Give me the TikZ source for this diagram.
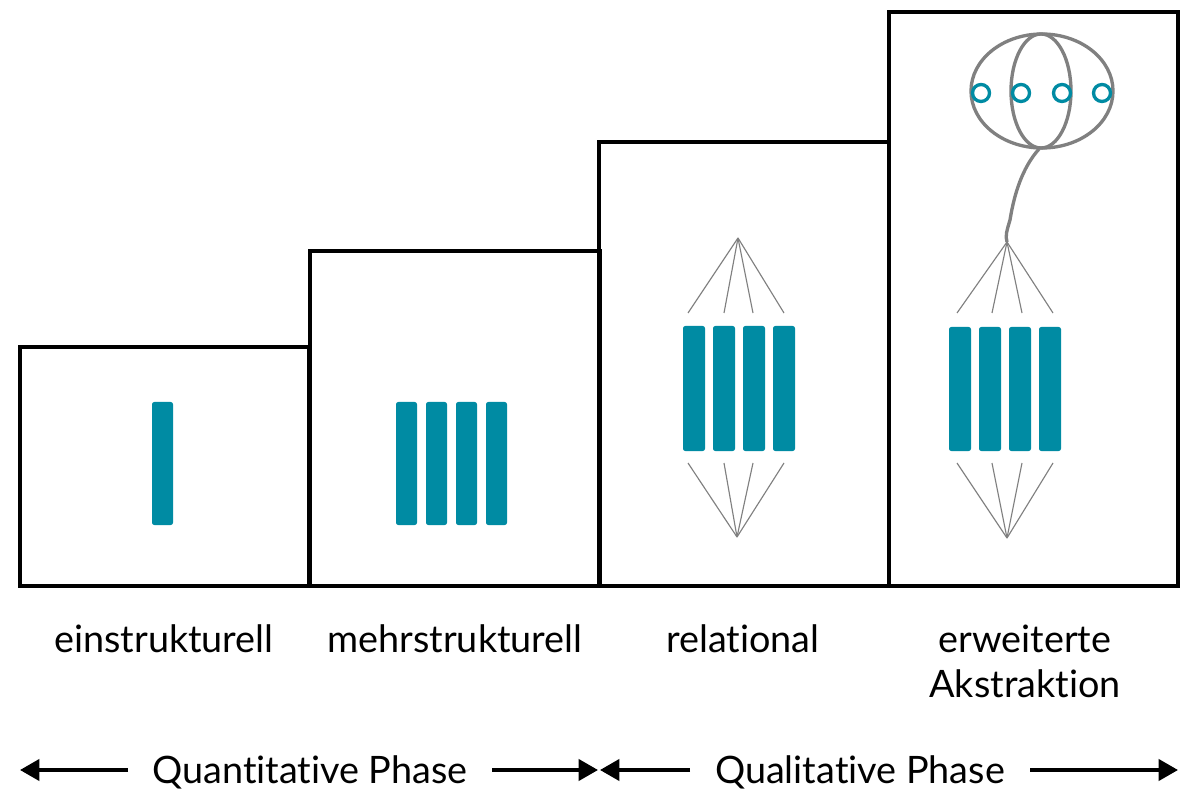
\documentclass[tikz,border=0pt]{standalone}
\usepackage{fontspec}
\setmainfont{Lato}[Ligatures={NoCommon}]
\usetikzlibrary{arrows.meta}
\definecolor{balkenfarbe}{RGB}{0,139,163}
\definecolor{fasergrau}{RGB}{128,128,128}
\tikzset{
  stufe/.style={line width=2.3pt},
  balken/.style={fill=balkenfarbe, rounded corners=1.3pt},
  faser/.style={draw=fasergrau, line width=0.65pt},
  stufentext/.style={font=\fontsize{21.5}{25.5}\selectfont, anchor=base, align=center},
  phasepfeil/.style={line width=2.1pt, -{Triangle[length=11pt,width=12pt]}}
}
\begin{document}
\begin{tikzpicture}[x=0.02cm, y=-0.02cm]
\useasboundingbox (0,0) rectangle (1200,800);

% Stufen
\draw[stufe] (20,347)  rectangle (309,586);
\draw[stufe] (310,251) rectangle (600,586);
\draw[stufe] (599,142) rectangle (889,586);
\draw[stufe] (889,12)  rectangle (1178,586);

% einstrukturell
\fill[balken] (152,402) rectangle (173,525);

% mehrstrukturell
\foreach \x in {396,426,456,486}
  \fill[balken] (\x,402) rectangle ++(21,123);

% relational
\foreach \x in {683,713,743,773}
  \fill[balken] (\x,326) rectangle ++(22,125);
\coordinate (relOben) at (738,238);
\coordinate (relUnten) at (737,537);
\foreach \x in {688,724,753,784} {
  \draw[faser] (relOben) -- (\x,313);
  \draw[faser] (relUnten) -- (\x,463);
}

% erweiterte Abstraktion
\foreach \x in {949,979,1009,1039}
  \fill[balken] (\x,327) rectangle ++(22,124);
\coordinate (abstOben) at (1007,242);
\coordinate (abstUnten) at (1007,538);
\foreach \x in {957,992,1022,1053} {
  \draw[faser] (abstOben) -- (\x,313);
  \draw[faser] (abstUnten) -- (\x,463);
}
\draw[draw=fasergrau, line width=1.9pt] (1042,91) ellipse (71 and 57);
\draw[draw=fasergrau, line width=1.9pt] (1041,91) ellipse (30 and 57);
\draw[draw=fasergrau, line width=1.9pt] (1039,149) .. controls (1022,168) and (1014,195) .. (1010,220)
  .. controls (1007,230) and (1005,236) .. (abstOben);
\foreach \x in {981,1021,1062,1102}
  \draw[draw=balkenfarbe, fill=white, line width=1.9pt] (\x,93) circle (8.5);

% Beschriftung
\node[stufentext] (ein) at (164,652) {einstrukturell};
\node[stufentext] (mehr) at (455,652) {mehrstrukturell};
\node[stufentext] (rel) at (743,652) {relational};
\node[stufentext] (erw) at (1025,697) {erweiterte\\Akstraktion};

% Phasen
\node[stufentext] (quanti) at (310,783) {Quantitative Phase};
\node[stufentext] (quali) at (860,783) {Qualitative Phase};
\coordinate (quantiL) at (20,770);
\coordinate (quantiR) at (598,770);
\coordinate (qualiL) at (600,770);
\coordinate (qualiR) at (1178,770);
\draw[phasepfeil] (128,770) -- (quantiL);
\draw[phasepfeil] (492,770) -- (quantiR);
\draw[phasepfeil] (690,770) -- (qualiL);
\draw[phasepfeil] (1030,770) -- (qualiR);
\end{tikzpicture}
\end{document}
